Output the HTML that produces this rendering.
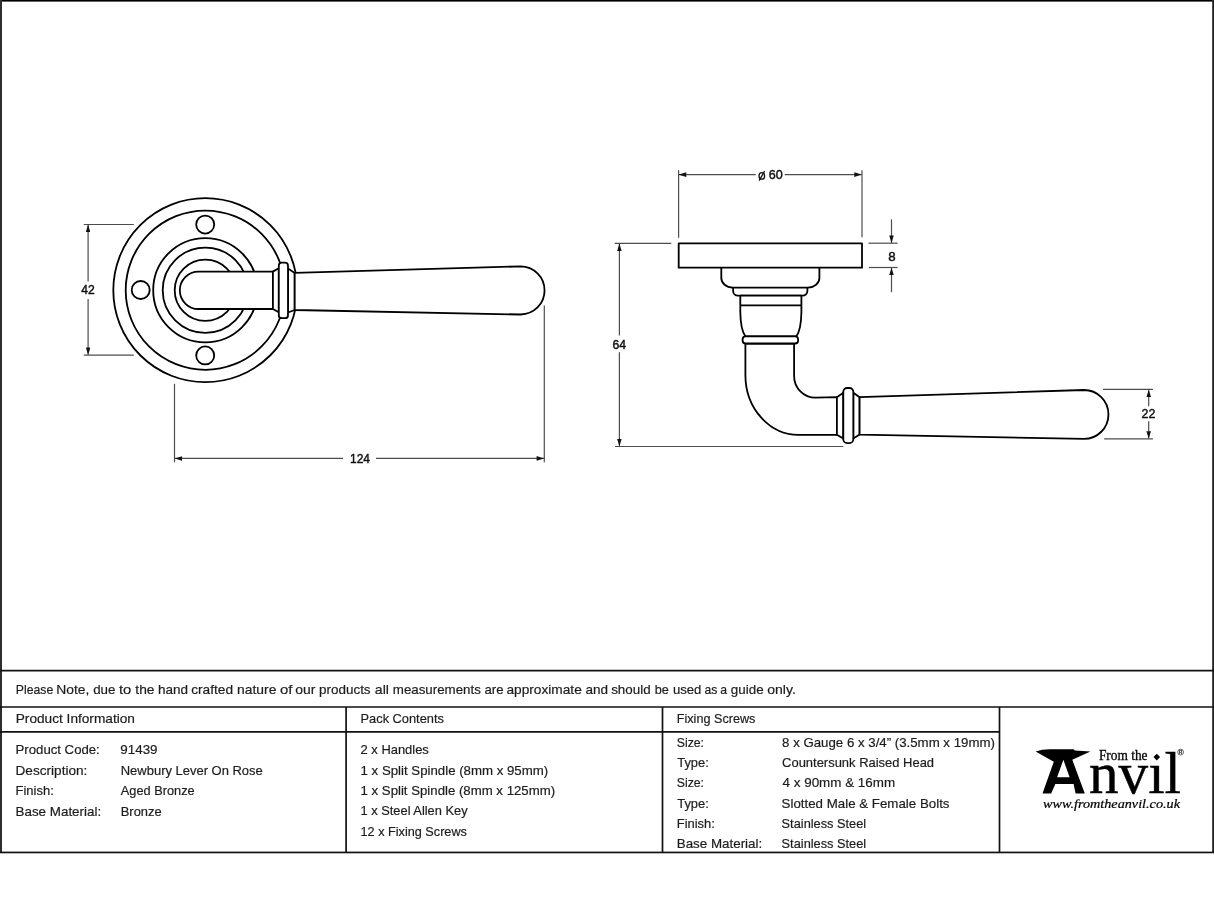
<!DOCTYPE html>
<html><head><meta charset="utf-8">
<style>
html,body{margin:0;padding:0;background:#fff;}
body{width:1214px;height:909px;overflow:hidden;position:relative;}
svg{position:absolute;left:0;top:0;will-change:transform;}
.t{font-family:"Liberation Sans",sans-serif;font-size:13.5px;fill:#1c1c1c;stroke:#1c1c1c;stroke-width:0.2px;}
.d{font-family:"Liberation Sans",sans-serif;fill:#111;stroke:#111;stroke-width:0.45px;}
.sr{font-family:"Liberation Serif",serif;fill:#000;}
</style></head><body>
<svg width="1214" height="909" viewBox="0 0 1214 909">
<!-- frame -->
<rect x="0" y="0" width="1214" height="1.6" fill="#000"/>
<rect x="0" y="0" width="2" height="853" fill="#2e2e2e"/>
<rect x="1212.2" y="0" width="1.8" height="853" fill="#222"/>
<rect x="0" y="851.6" width="1214" height="1.7" fill="#111"/>
<!-- table lines -->
<g stroke="#111" stroke-width="1.7" fill="none">
<line x1="0" y1="670.6" x2="1214" y2="670.6"/>
<line x1="0" y1="707" x2="1214" y2="707"/>
<line x1="0" y1="731.8" x2="999.5" y2="731.8"/>
<line x1="346.1" y1="707" x2="346.1" y2="852"/>
<line x1="662.5" y1="707" x2="662.5" y2="852"/>
<line x1="999.5" y1="707" x2="999.5" y2="852"/>
</g>
<g class="t">
<text id="t0" x="15.80" y="693.50" textLength="37.40" lengthAdjust="spacingAndGlyphs">Please</text>
<text id="t1" x="56.30" y="693.50" textLength="33.10" lengthAdjust="spacingAndGlyphs">Note,</text>
<text id="t2" x="93.20" y="693.50" textLength="22.30" lengthAdjust="spacingAndGlyphs">due</text>
<text id="t3" x="118.90" y="693.50" textLength="12.30" lengthAdjust="spacingAndGlyphs">to</text>
<text id="t4" x="135.30" y="693.50" textLength="19.20" lengthAdjust="spacingAndGlyphs">the</text>
<text id="t5" x="157.90" y="693.50" textLength="30.10" lengthAdjust="spacingAndGlyphs">hand</text>
<text id="t6" x="191.20" y="693.50" textLength="41.90" lengthAdjust="spacingAndGlyphs">crafted</text>
<text id="t7" x="237.10" y="693.50" textLength="39.30" lengthAdjust="spacingAndGlyphs">nature</text>
<text id="t8" x="280.00" y="693.50" textLength="12.40" lengthAdjust="spacingAndGlyphs">of</text>
<text id="t9" x="295.20" y="693.50" textLength="20.10" lengthAdjust="spacingAndGlyphs">our</text>
<text id="t10" x="319.00" y="693.50" textLength="51.60" lengthAdjust="spacingAndGlyphs">products</text>
<text id="t11" x="374.80" y="693.50" textLength="14.20" lengthAdjust="spacingAndGlyphs">all</text>
<text id="t12" x="392.80" y="693.50" textLength="88.10" lengthAdjust="spacingAndGlyphs">measurements</text>
<text id="t13" x="484.40" y="693.50" textLength="19.10" lengthAdjust="spacingAndGlyphs">are</text>
<text id="t14" x="506.40" y="693.50" textLength="75.40" lengthAdjust="spacingAndGlyphs">approximate</text>
<text id="t15" x="585.40" y="693.50" textLength="22.60" lengthAdjust="spacingAndGlyphs">and</text>
<text id="t16" x="611.20" y="693.50" textLength="39.40" lengthAdjust="spacingAndGlyphs">should</text>
<text id="t17" x="654.70" y="693.50" textLength="14.10" lengthAdjust="spacingAndGlyphs">be</text>
<text id="t18" x="672.90" y="693.50" textLength="28.50" lengthAdjust="spacingAndGlyphs">used</text>
<text id="t19" x="704.50" y="693.50" textLength="12.90" lengthAdjust="spacingAndGlyphs">as</text>
<text id="t20" x="720.20" y="693.50" textLength="6.80" lengthAdjust="spacingAndGlyphs">a</text>
<text id="t21" x="730.80" y="693.50" textLength="32.80" lengthAdjust="spacingAndGlyphs">guide</text>
<text id="t22" x="767.20" y="693.50" textLength="28.60" lengthAdjust="spacingAndGlyphs">only.</text>
<text id="t23" x="15.75" y="723.00" textLength="119.15" lengthAdjust="spacingAndGlyphs">Product Information</text>
<text id="t24" x="360.55" y="722.80" textLength="83.35" lengthAdjust="spacingAndGlyphs">Pack Contents</text>
<text id="t25" x="676.75" y="722.90" textLength="78.70" lengthAdjust="spacingAndGlyphs">Fixing Screws</text>
<text id="t26" x="15.55" y="754.10" textLength="84.25" lengthAdjust="spacingAndGlyphs">Product Code:</text>
<text id="t27" x="15.55" y="774.80" textLength="71.80" lengthAdjust="spacingAndGlyphs">Description:</text>
<text id="t28" x="15.55" y="795.20" textLength="38.25" lengthAdjust="spacingAndGlyphs">Finish:</text>
<text id="t29" x="15.55" y="815.60" textLength="85.60" lengthAdjust="spacingAndGlyphs">Base Material:</text>
<text id="t30" x="120.35" y="754.10" textLength="37.15" lengthAdjust="spacingAndGlyphs">91439</text>
<text id="t31" x="120.75" y="774.80" textLength="142.05" lengthAdjust="spacingAndGlyphs">Newbury Lever On Rose</text>
<text id="t32" x="120.85" y="795.20" textLength="73.80" lengthAdjust="spacingAndGlyphs">Aged Bronze</text>
<text id="t33" x="120.75" y="815.60" textLength="40.90" lengthAdjust="spacingAndGlyphs">Bronze</text>
<text id="t34" x="360.55" y="753.80" textLength="68.25" lengthAdjust="spacingAndGlyphs">2 x Handles</text>
<text id="t35" x="360.55" y="774.60" textLength="187.65" lengthAdjust="spacingAndGlyphs">1 x Split Spindle (8mm x 95mm)</text>
<text id="t36" x="360.55" y="794.80" textLength="194.55" lengthAdjust="spacingAndGlyphs">1 x Split Spindle (8mm x 125mm)</text>
<text id="t37" x="360.55" y="814.90" textLength="107.05" lengthAdjust="spacingAndGlyphs">1 x Steel Allen Key</text>
<text id="t38" x="360.55" y="835.70" textLength="106.35" lengthAdjust="spacingAndGlyphs">12 x Fixing Screws</text>
<text id="t39" x="676.75" y="746.80" textLength="27.25" lengthAdjust="spacingAndGlyphs">Size:</text>
<text id="t40" x="677.25" y="767.00" textLength="31.55" lengthAdjust="spacingAndGlyphs">Type:</text>
<text id="t41" x="676.75" y="787.30" textLength="27.25" lengthAdjust="spacingAndGlyphs">Size:</text>
<text id="t42" x="677.25" y="807.50" textLength="31.55" lengthAdjust="spacingAndGlyphs">Type:</text>
<text id="t43" x="676.75" y="828.20" textLength="38.05" lengthAdjust="spacingAndGlyphs">Finish:</text>
<text id="t44" x="676.75" y="847.90" textLength="85.45" lengthAdjust="spacingAndGlyphs">Base Material:</text>
<text id="t45" x="782.10" y="746.80" textLength="212.80" lengthAdjust="spacingAndGlyphs">8 x Gauge 6 x 3/4” (3.5mm x 19mm)</text>
<text id="t46" x="782.10" y="767.00" textLength="151.95" lengthAdjust="spacingAndGlyphs">Countersunk Raised Head</text>
<text id="t47" x="782.60" y="787.30" textLength="112.45" lengthAdjust="spacingAndGlyphs">4 x 90mm &amp; 16mm</text>
<text id="t48" x="781.60" y="807.50" textLength="167.90" lengthAdjust="spacingAndGlyphs">Slotted Male &amp; Female Bolts</text>
<text id="t49" x="781.60" y="828.20" textLength="84.60" lengthAdjust="spacingAndGlyphs">Stainless Steel</text>
<text id="t50" x="781.60" y="847.90" textLength="84.60" lengthAdjust="spacingAndGlyphs">Stainless Steel</text>
</g>
<defs>
<marker id="ar" viewBox="0 0 8 5" refX="8" refY="2.5" markerWidth="8" markerHeight="4.6" markerUnits="userSpaceOnUse" orient="auto">
<path d="M0,0 L8,2.5 L0,5 z" fill="#111"/></marker>
</defs>
<!-- LEFT VIEW -->
<g fill="none" stroke="#000" stroke-width="1.8">
<circle cx="205.3" cy="290.2" r="92"/>
<circle cx="205.3" cy="290.2" r="79.6"/>
<circle cx="205.2" cy="224.6" r="9"/>
<circle cx="140.7" cy="290" r="9"/>
<circle cx="205.2" cy="355.4" r="9"/>
<circle cx="205.3" cy="290.2" r="52.1"/>
<circle cx="205.3" cy="290.2" r="42.6"/>
<circle cx="205.3" cy="290.2" r="30.6"/>
</g>
<g fill="#fff" stroke="#000" stroke-width="1.8" stroke-linejoin="round">
<path d="M274,271.6 H198.5 A18.7,18.7 0 0 0 198.5,309 H274 Z"/>
<path d="M272.9,271.6 L278.8,268.3 V312.3 L272.9,309 Z"/>
<path d="M288,268.5 L294.7,272.9 V310 L288,312.5 Z"/>
<rect x="278.8" y="262.7" width="9.2" height="55.5" rx="3"/>
<path d="M294.7,272.9 L520.5,266.4 A24.05,24.05 0 0 1 520.5,314.5 L294.7,310 Z"/>
</g>
<!-- left dims -->
<g fill="none" stroke="#4d4d4d" stroke-width="1.2">
<line x1="83.8" y1="224.5" x2="133.8" y2="224.5"/>
<line x1="83.8" y1="355.1" x2="133.8" y2="355.1"/>
<line x1="88.1" y1="281.5" x2="88.1" y2="224.8" marker-end="url(#ar)"/>
<line x1="88.1" y1="299" x2="88.1" y2="354.8" marker-end="url(#ar)"/>
<line x1="174.5" y1="383.8" x2="174.5" y2="462.3"/>
<line x1="544.3" y1="305.4" x2="544.3" y2="462.3"/>
<line x1="343.1" y1="458.4" x2="174.8" y2="458.4" marker-end="url(#ar)"/>
<line x1="376" y1="458.4" x2="544" y2="458.4" marker-end="url(#ar)"/>
</g>
<!-- RIGHT VIEW -->
<g fill="#fff" stroke="#000" stroke-width="1.8" stroke-linejoin="round">
<path fill="none" d="M733.1,287.6 V291 A4.9,4.7 0 0 0 738,295.7 H802.5 A4.9,4.7 0 0 0 807.4,291 V287.6"/>
<path fill="none" d="M721.3,267.7 V278 A11.4,9.6 0 0 0 732.7,287.6 H808 A11.4,9.6 0 0 0 819.4,278 V267.7"/>
<path d="M740.3,295.7 V312 Q740.6,330 745.4,336.3 H796.4 Q801.1,330 801.4,312 V295.7 Z"/>
<line x1="740.3" y1="305.3" x2="801.4" y2="305.3"/>
<path d="M745.4,343.5 V375 C745.4,408.5 769.5,434.8 798.5,434.8 H836.9 V397.2 L815.5,397.7 C803.7,397.7 794.1,387.9 794.1,375.9 V343.5 Z"/>
<rect x="742.6" y="336.3" width="55.5" height="7.2" rx="3"/>
<path d="M836.9,397.2 L843.3,392.8 V438.6 L836.9,434.8 Z"/>
<path d="M853.3,392.8 L859.6,397.2 V434.6 L853.3,438.6 Z"/>
<rect x="843.3" y="388" width="10" height="55.1" rx="3.8"/>
<path d="M859.6,397.2 L1084,390 A24.45,24.45 0 0 1 1084,438.9 L859.6,434.6 Z"/>
<rect x="678.7" y="243.4" width="183.3" height="24.3"/>
</g>
<g fill="none" stroke="#4d4d4d" stroke-width="1.2">
<line x1="678.6" y1="170.3" x2="678.6" y2="237.7"/>
<line x1="862" y1="170.3" x2="862" y2="237.2"/>
<line x1="755.8" y1="174.6" x2="678.9" y2="174.6" marker-end="url(#ar)"/>
<line x1="784.7" y1="174.6" x2="861.7" y2="174.6" marker-end="url(#ar)"/>
<line x1="868.4" y1="243.2" x2="897.6" y2="243.2"/>
<line x1="868.9" y1="267.5" x2="897.6" y2="267.5"/>
<line x1="891.5" y1="219.4" x2="891.5" y2="242.9" marker-end="url(#ar)"/>
<line x1="891.5" y1="292.2" x2="891.5" y2="267.8" marker-end="url(#ar)"/>
<line x1="614.7" y1="243.4" x2="671.3" y2="243.4"/>
<line x1="615" y1="446.5" x2="843.3" y2="446.5"/>
<line x1="619.4" y1="335.6" x2="619.4" y2="243.7" marker-end="url(#ar)"/>
<line x1="619.4" y1="352.3" x2="619.4" y2="446.2" marker-end="url(#ar)"/>
<line x1="1103.1" y1="389.4" x2="1152.9" y2="389.4"/>
<line x1="1104.2" y1="438.9" x2="1152.9" y2="438.9"/>
<line x1="1148.7" y1="406.2" x2="1148.7" y2="389.7" marker-end="url(#ar)"/>
<line x1="1148.7" y1="421.2" x2="1148.7" y2="438.6" marker-end="url(#ar)"/>
</g>
<g class="d" font-size="13.5">
<text x="81.2" y="294" textLength="13.5" lengthAdjust="spacingAndGlyphs">42</text>
<text x="350" y="462.8" textLength="20" lengthAdjust="spacingAndGlyphs">124</text>
<text x="768.7" y="179.3" textLength="14" lengthAdjust="spacingAndGlyphs">60</text>
<text x="888.2" y="260.5" textLength="7.4" lengthAdjust="spacingAndGlyphs">8</text>
<text x="612.5" y="349" textLength="13.6" lengthAdjust="spacingAndGlyphs">64</text>
<text x="1141.6" y="417.9" textLength="13.8" lengthAdjust="spacingAndGlyphs">22</text>
</g>
<g fill="none" stroke="#111" stroke-width="1.3">
<ellipse cx="761.8" cy="175.9" rx="2.8" ry="3.3"/>
<line x1="759.2" y1="180.6" x2="764.6" y2="171"/>
</g>

<g fill="#000">
<path fill-rule="evenodd" d="M1035.6,751.6 Q1042,749.2 1049.8,749.2 L1073.6,749.2 L1074.9,750.6 L1090.4,751.6 L1072.3,759.8 L1084.8,793.5 L1075.6,793.5 L1073.6,783.9 L1055.4,783.9 L1051.1,793.5 L1042.5,793.5 L1053.8,761.8 Z M1063.4,759.8 L1069.6,777.3 L1057.1,777.3 Z"/>
<text class="sr" x="1098.9" y="759.8" font-size="14.2" textLength="48.6" lengthAdjust="spacingAndGlyphs" stroke="#000" stroke-width="0.3">From the</text>
<path d="M1156.8,753.8 L1160.1,757.1 L1156.8,760.4 L1153.5,757.1 Z"/>
<text class="sr" x="1089" y="793.2" font-size="58.5" textLength="92" lengthAdjust="spacingAndGlyphs" stroke="#000" stroke-width="0.45">nv&#x131;l</text>
<circle cx="1180.6" cy="752.1" r="2.9" fill="none" stroke="#000" stroke-width="0.6"/>
<text x="1178.9" y="754.2" font-family="Liberation Sans" font-size="4.5" font-weight="bold">R</text>
<text x="1043" y="807.5" font-family="Liberation Serif" font-style="italic" font-size="11.8" textLength="137" lengthAdjust="spacingAndGlyphs" stroke="#000" stroke-width="0.2">www.fromtheanvil.co.uk</text>
</g>

</svg>
</body></html>
